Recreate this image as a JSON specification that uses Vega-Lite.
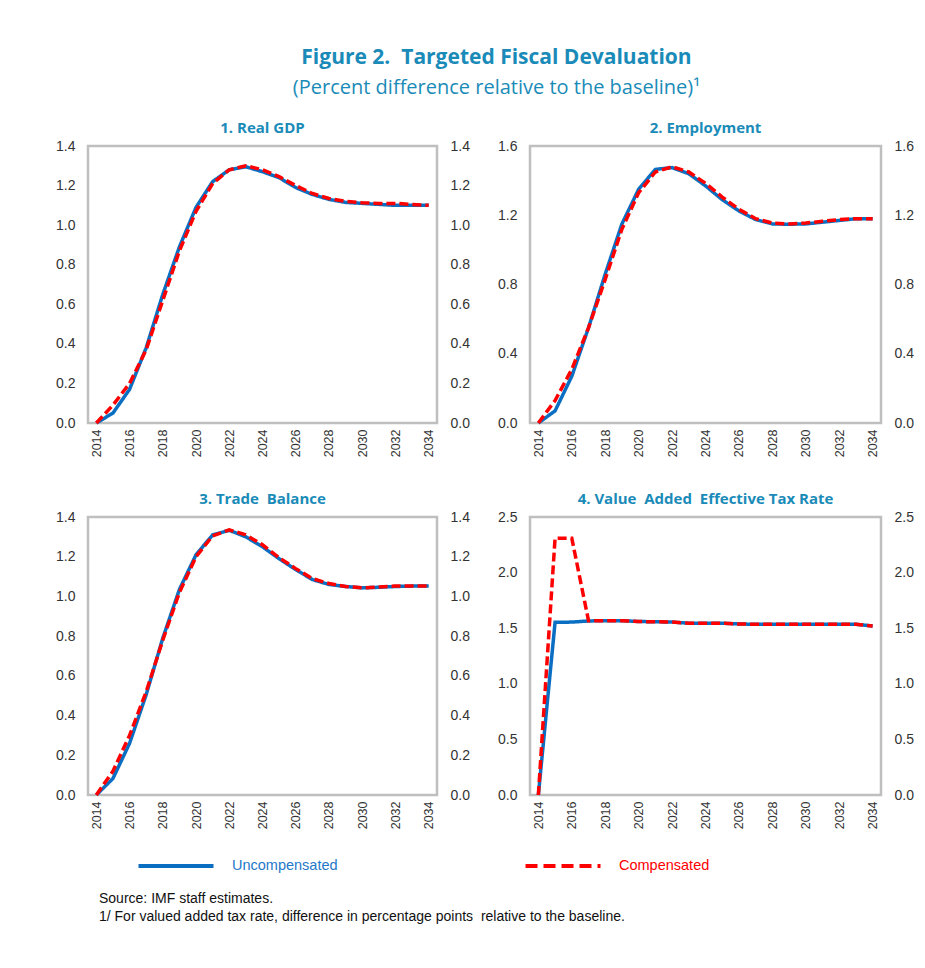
{
  "$schema": "https://vega.github.io/schema/vega-lite/v6.json",
  "padding": {"left": 54, "top": 46, "right": 5, "bottom": 5},
  "background": "white",
  "title": {
    "text": "Figure 2.\u00a0 Targeted Fiscal Devaluation",
    "subtitle": "(Percent difference relative to the baseline)¹",
    "anchor": "middle",
    "font": "Open Sans",
    "fontSize": 21,
    "fontWeight": "bold",
    "color": "#1A8BB8",
    "subtitleFont": "Open Sans",
    "subtitleFontSize": 20,
    "subtitleColor": "#1A8BB8",
    "subtitlePadding": 10,
    "offset": 22,
    "dx": 12
  },
  "datasets": {
    "d": [
      {"panel": "gdp", "year": 2014, "Uncompensated": 0, "Compensated": 0},
      {"panel": "gdp", "year": 2015, "Uncompensated": 0.05, "Compensated": 0.09},
      {"panel": "gdp", "year": 2016, "Uncompensated": 0.17, "Compensated": 0.2},
      {"panel": "gdp", "year": 2017, "Uncompensated": 0.38, "Compensated": 0.37},
      {"panel": "gdp", "year": 2018, "Uncompensated": 0.65, "Compensated": 0.62},
      {"panel": "gdp", "year": 2019, "Uncompensated": 0.89, "Compensated": 0.87},
      {"panel": "gdp", "year": 2020, "Uncompensated": 1.09, "Compensated": 1.07},
      {"panel": "gdp", "year": 2021, "Uncompensated": 1.22, "Compensated": 1.21},
      {"panel": "gdp", "year": 2022, "Uncompensated": 1.28, "Compensated": 1.28},
      {"panel": "gdp", "year": 2023, "Uncompensated": 1.295, "Compensated": 1.3},
      {"panel": "gdp", "year": 2024, "Uncompensated": 1.27, "Compensated": 1.28},
      {"panel": "gdp", "year": 2025, "Uncompensated": 1.24, "Compensated": 1.245},
      {"panel": "gdp", "year": 2026, "Uncompensated": 1.19, "Compensated": 1.2},
      {"panel": "gdp", "year": 2027, "Uncompensated": 1.155, "Compensated": 1.16},
      {"panel": "gdp", "year": 2028, "Uncompensated": 1.13, "Compensated": 1.135},
      {"panel": "gdp", "year": 2029, "Uncompensated": 1.115, "Compensated": 1.12},
      {"panel": "gdp", "year": 2030, "Uncompensated": 1.11, "Compensated": 1.113},
      {"panel": "gdp", "year": 2031, "Uncompensated": 1.105, "Compensated": 1.11},
      {"panel": "gdp", "year": 2032, "Uncompensated": 1.1, "Compensated": 1.11},
      {"panel": "gdp", "year": 2033, "Uncompensated": 1.1, "Compensated": 1.105},
      {"panel": "gdp", "year": 2034, "Uncompensated": 1.1, "Compensated": 1.1},
      {"panel": "emp", "year": 2014, "Uncompensated": 0, "Compensated": 0},
      {"panel": "emp", "year": 2015, "Uncompensated": 0.07, "Compensated": 0.13},
      {"panel": "emp", "year": 2016, "Uncompensated": 0.27, "Compensated": 0.31},
      {"panel": "emp", "year": 2017, "Uncompensated": 0.55, "Compensated": 0.55},
      {"panel": "emp", "year": 2018, "Uncompensated": 0.86, "Compensated": 0.83},
      {"panel": "emp", "year": 2019, "Uncompensated": 1.15, "Compensated": 1.12},
      {"panel": "emp", "year": 2020, "Uncompensated": 1.35, "Compensated": 1.33},
      {"panel": "emp", "year": 2021, "Uncompensated": 1.465, "Compensated": 1.45},
      {"panel": "emp", "year": 2022, "Uncompensated": 1.475, "Compensated": 1.48},
      {"panel": "emp", "year": 2023, "Uncompensated": 1.44, "Compensated": 1.45},
      {"panel": "emp", "year": 2024, "Uncompensated": 1.37, "Compensated": 1.385},
      {"panel": "emp", "year": 2025, "Uncompensated": 1.29, "Compensated": 1.305},
      {"panel": "emp", "year": 2026, "Uncompensated": 1.225, "Compensated": 1.235},
      {"panel": "emp", "year": 2027, "Uncompensated": 1.175, "Compensated": 1.18},
      {"panel": "emp", "year": 2028, "Uncompensated": 1.15, "Compensated": 1.155},
      {"panel": "emp", "year": 2029, "Uncompensated": 1.148, "Compensated": 1.15},
      {"panel": "emp", "year": 2030, "Uncompensated": 1.15, "Compensated": 1.155},
      {"panel": "emp", "year": 2031, "Uncompensated": 1.16, "Compensated": 1.165},
      {"panel": "emp", "year": 2032, "Uncompensated": 1.17, "Compensated": 1.175},
      {"panel": "emp", "year": 2033, "Uncompensated": 1.18, "Compensated": 1.18},
      {"panel": "emp", "year": 2034, "Uncompensated": 1.18, "Compensated": 1.18},
      {"panel": "tb", "year": 2014, "Uncompensated": 0, "Compensated": 0},
      {"panel": "tb", "year": 2015, "Uncompensated": 0.083, "Compensated": 0.12},
      {"panel": "tb", "year": 2016, "Uncompensated": 0.26, "Compensated": 0.3},
      {"panel": "tb", "year": 2017, "Uncompensated": 0.505, "Compensated": 0.52},
      {"panel": "tb", "year": 2018, "Uncompensated": 0.79, "Compensated": 0.78},
      {"panel": "tb", "year": 2019, "Uncompensated": 1.035, "Compensated": 1.02},
      {"panel": "tb", "year": 2020, "Uncompensated": 1.21, "Compensated": 1.2},
      {"panel": "tb", "year": 2021, "Uncompensated": 1.31, "Compensated": 1.305},
      {"panel": "tb", "year": 2022, "Uncompensated": 1.333, "Compensated": 1.335},
      {"panel": "tb", "year": 2023, "Uncompensated": 1.3, "Compensated": 1.31},
      {"panel": "tb", "year": 2024, "Uncompensated": 1.25, "Compensated": 1.26},
      {"panel": "tb", "year": 2025, "Uncompensated": 1.19, "Compensated": 1.195},
      {"panel": "tb", "year": 2026, "Uncompensated": 1.135, "Compensated": 1.14},
      {"panel": "tb", "year": 2027, "Uncompensated": 1.085, "Compensated": 1.09},
      {"panel": "tb", "year": 2028, "Uncompensated": 1.06, "Compensated": 1.065},
      {"panel": "tb", "year": 2029, "Uncompensated": 1.05, "Compensated": 1.05},
      {"panel": "tb", "year": 2030, "Uncompensated": 1.043, "Compensated": 1.043},
      {"panel": "tb", "year": 2031, "Uncompensated": 1.046, "Compensated": 1.048},
      {"panel": "tb", "year": 2032, "Uncompensated": 1.05, "Compensated": 1.052},
      {"panel": "tb", "year": 2033, "Uncompensated": 1.052, "Compensated": 1.053},
      {"panel": "tb", "year": 2034, "Uncompensated": 1.052, "Compensated": 1.053},
      {"panel": "vat", "year": 2014, "Uncompensated": 0, "Compensated": 0},
      {"panel": "vat", "year": 2015, "Uncompensated": 1.553, "Compensated": 2.31},
      {"panel": "vat", "year": 2016, "Uncompensated": 1.555, "Compensated": 2.31},
      {"panel": "vat", "year": 2017, "Uncompensated": 1.565, "Compensated": 1.568},
      {"panel": "vat", "year": 2018, "Uncompensated": 1.568, "Compensated": 1.568},
      {"panel": "vat", "year": 2019, "Uncompensated": 1.568, "Compensated": 1.568},
      {"panel": "vat", "year": 2020, "Uncompensated": 1.56, "Compensated": 1.56},
      {"panel": "vat", "year": 2021, "Uncompensated": 1.558, "Compensated": 1.558},
      {"panel": "vat", "year": 2022, "Uncompensated": 1.555, "Compensated": 1.555},
      {"panel": "vat", "year": 2023, "Uncompensated": 1.545, "Compensated": 1.545},
      {"panel": "vat", "year": 2024, "Uncompensated": 1.545, "Compensated": 1.545},
      {"panel": "vat", "year": 2025, "Uncompensated": 1.545, "Compensated": 1.545},
      {"panel": "vat", "year": 2026, "Uncompensated": 1.538, "Compensated": 1.538},
      {"panel": "vat", "year": 2027, "Uncompensated": 1.535, "Compensated": 1.535},
      {"panel": "vat", "year": 2028, "Uncompensated": 1.535, "Compensated": 1.535},
      {"panel": "vat", "year": 2029, "Uncompensated": 1.535, "Compensated": 1.535},
      {"panel": "vat", "year": 2030, "Uncompensated": 1.535, "Compensated": 1.535},
      {"panel": "vat", "year": 2031, "Uncompensated": 1.535, "Compensated": 1.535},
      {"panel": "vat", "year": 2032, "Uncompensated": 1.535, "Compensated": 1.535},
      {"panel": "vat", "year": 2033, "Uncompensated": 1.535, "Compensated": 1.535},
      {"panel": "vat", "year": 2034, "Uncompensated": 1.52, "Compensated": 1.52}
    ]
  },
  "data": {"name": "d"},
  "vconcat": [
    {
      "vconcat": [
        {
          "hconcat": [
            {
              "width": 349, "height": 277,
              "title": "1. Real GDP",
              "transform": [{"filter": "datum.panel == 'gdp'"}, {"fold": ["Uncompensated", "Compensated"], "as": ["series", "value"]}],
              "encoding": {
                "x": {"field": "year", "type": "quantitative", "scale": {"domain": [2013.5, 2034.5], "nice": false, "zero": false}, "axis": {"values": [2014, 2016, 2018, 2020, 2022, 2024, 2026, 2028, 2030, 2032, 2034], "format": "d", "labelAngle": -90, "title": null, "labelPadding": 6, "labelFontSize": 12.5}}
              },
              "layer": [
                {
                  "mark": {"type": "line", "strokeWidth": 3.5},
                  "encoding": {
                    "y": {"field": "value", "type": "quantitative", "scale": {"domain": [0, 1.4], "nice": false}, "axis": {"values": [0, 0.2, 0.4, 0.6, 0.8, 1.0, 1.2, 1.4], "format": ".1f", "title": null, "labelPadding": 13}},
                    "color": {"field": "series", "type": "nominal", "scale": {"domain": ["Uncompensated", "Compensated"], "range": ["#0A6FC2", "#FF0000"]}, "legend": null},
                    "strokeDash": {"field": "series", "type": "nominal", "scale": {"domain": ["Uncompensated", "Compensated"], "range": [[1, 0], [9, 4]]}, "legend": null}
                  }
                },
                {
                  "mark": {"type": "line", "opacity": 0},
                  "encoding": {
                    "y": {"field": "value", "type": "quantitative", "scale": {"domain": [0, 1.4], "nice": false}, "axis": {"orient": "right", "values": [0, 0.2, 0.4, 0.6, 0.8, 1.0, 1.2, 1.4], "format": ".1f", "title": null, "labelPadding": 13}},
                    "detail": {"field": "series"}
                  }
                }
              ],
              "resolve": {"scale": {"y": "independent"}}
            },
            {
              "width": 351, "height": 277,
              "title": "2. Employment",
              "transform": [{"filter": "datum.panel == 'emp'"}, {"fold": ["Uncompensated", "Compensated"], "as": ["series", "value"]}],
              "encoding": {
                "x": {"field": "year", "type": "quantitative", "scale": {"domain": [2013.5, 2034.5], "nice": false, "zero": false}, "axis": {"values": [2014, 2016, 2018, 2020, 2022, 2024, 2026, 2028, 2030, 2032, 2034], "format": "d", "labelAngle": -90, "title": null, "labelPadding": 6, "labelFontSize": 12.5}}
              },
              "layer": [
                {
                  "mark": {"type": "line", "strokeWidth": 3.5},
                  "encoding": {
                    "y": {"field": "value", "type": "quantitative", "scale": {"domain": [0, 1.6], "nice": false}, "axis": {"values": [0, 0.4, 0.8, 1.2, 1.6], "format": ".1f", "title": null, "labelPadding": 13}},
                    "color": {"field": "series", "type": "nominal", "scale": {"domain": ["Uncompensated", "Compensated"], "range": ["#0A6FC2", "#FF0000"]}, "legend": null},
                    "strokeDash": {"field": "series", "type": "nominal", "scale": {"domain": ["Uncompensated", "Compensated"], "range": [[1, 0], [9, 4]]}, "legend": null}
                  }
                },
                {
                  "mark": {"type": "line", "opacity": 0},
                  "encoding": {
                    "y": {"field": "value", "type": "quantitative", "scale": {"domain": [0, 1.6], "nice": false}, "axis": {"orient": "right", "values": [0, 0.4, 0.8, 1.2, 1.6], "format": ".1f", "title": null, "labelPadding": 13}},
                    "detail": {"field": "series"}
                  }
                }
              ],
              "resolve": {"scale": {"y": "independent"}}
            }
          ],
          "spacing": 25,
          "resolve": {"scale": {"color": "independent", "strokeDash": "independent"}}
        },
        {
          "hconcat": [
            {
              "width": 349, "height": 278,
              "title": "3. Trade\u00a0 Balance",
              "transform": [{"filter": "datum.panel == 'tb'"}, {"fold": ["Uncompensated", "Compensated"], "as": ["series", "value"]}],
              "encoding": {
                "x": {"field": "year", "type": "quantitative", "scale": {"domain": [2013.5, 2034.5], "nice": false, "zero": false}, "axis": {"values": [2014, 2016, 2018, 2020, 2022, 2024, 2026, 2028, 2030, 2032, 2034], "format": "d", "labelAngle": -90, "title": null, "labelPadding": 6, "labelFontSize": 12.5}}
              },
              "layer": [
                {
                  "mark": {"type": "line", "strokeWidth": 3.5},
                  "encoding": {
                    "y": {"field": "value", "type": "quantitative", "scale": {"domain": [0, 1.4], "nice": false}, "axis": {"values": [0, 0.2, 0.4, 0.6, 0.8, 1.0, 1.2, 1.4], "format": ".1f", "title": null, "labelPadding": 13}},
                    "color": {"field": "series", "type": "nominal", "scale": {"domain": ["Uncompensated", "Compensated"], "range": ["#0A6FC2", "#FF0000"]}, "legend": null},
                    "strokeDash": {"field": "series", "type": "nominal", "scale": {"domain": ["Uncompensated", "Compensated"], "range": [[1, 0], [9, 4]]}, "legend": null}
                  }
                },
                {
                  "mark": {"type": "line", "opacity": 0},
                  "encoding": {
                    "y": {"field": "value", "type": "quantitative", "scale": {"domain": [0, 1.4], "nice": false}, "axis": {"orient": "right", "values": [0, 0.2, 0.4, 0.6, 0.8, 1.0, 1.2, 1.4], "format": ".1f", "title": null, "labelPadding": 13}},
                    "detail": {"field": "series"}
                  }
                }
              ],
              "resolve": {"scale": {"y": "independent"}}
            },
            {
              "width": 351, "height": 278,
              "title": "4. Value\u00a0 Added\u00a0 Effective Tax Rate",
              "transform": [{"filter": "datum.panel == 'vat'"}, {"fold": ["Uncompensated", "Compensated"], "as": ["series", "value"]}],
              "encoding": {
                "x": {"field": "year", "type": "quantitative", "scale": {"domain": [2013.5, 2034.5], "nice": false, "zero": false}, "axis": {"values": [2014, 2016, 2018, 2020, 2022, 2024, 2026, 2028, 2030, 2032, 2034], "format": "d", "labelAngle": -90, "title": null, "labelPadding": 6, "labelFontSize": 12.5}}
              },
              "layer": [
                {
                  "mark": {"type": "line", "strokeWidth": 3.5},
                  "encoding": {
                    "y": {"field": "value", "type": "quantitative", "scale": {"domain": [0, 2.5], "nice": false}, "axis": {"values": [0, 0.5, 1.0, 1.5, 2.0, 2.5], "format": ".1f", "title": null, "labelPadding": 13}},
                    "color": {"field": "series", "type": "nominal", "scale": {"domain": ["Uncompensated", "Compensated"], "range": ["#0A6FC2", "#FF0000"]}, "legend": null},
                    "strokeDash": {"field": "series", "type": "nominal", "scale": {"domain": ["Uncompensated", "Compensated"], "range": [[1, 0], [9, 4]]}, "legend": null}
                  }
                },
                {
                  "mark": {"type": "line", "opacity": 0},
                  "encoding": {
                    "y": {"field": "value", "type": "quantitative", "scale": {"domain": [0, 2.5], "nice": false}, "axis": {"orient": "right", "values": [0, 0.5, 1.0, 1.5, 2.0, 2.5], "format": ".1f", "title": null, "labelPadding": 13}},
                    "detail": {"field": "series"}
                  }
                }
              ],
              "resolve": {"scale": {"y": "independent"}}
            }
          ],
          "spacing": 25,
          "resolve": {"scale": {"color": "independent", "strokeDash": "independent"}}
        }
      ],
      "spacing": 31,
      "resolve": {"scale": {"color": "independent", "strokeDash": "independent"}}
    },
    {
      "width": 760, "height": 1,
      "view": {"stroke": null},
      "title": {
        "text": ["Source: IMF staff estimates.", "1/ For valued added tax rate, difference in percentage points\u00a0 relative to the baseline."],
        "orient": "bottom",
        "anchor": "start",
        "frame": "bounds",
        "dx": 11,
        "offset": 17,
        "font": "Liberation Sans",
        "fontSize": 14,
        "fontWeight": "normal",
        "color": "#111111",
        "lineHeight": 18
      },
      "transform": [{"filter": "datum.panel == 'none'"}, {"fold": ["Uncompensated", "Compensated"], "as": ["series", "value"]}],
      "mark": {"type": "line", "strokeWidth": 4},
      "encoding": {
        "color": {"field": "series", "type": "nominal", "scale": {"domain": ["Uncompensated", "Compensated"], "range": ["#0A6FC2", "#FF0000"]},
          "legend": {
            "orient": "top", "direction": "horizontal", "title": null, "offset": 0,
            "symbolType": "M-3.75,0H3.75", "symbolSize": 400, "symbolStrokeWidth": 4, "symbolOffset": 76,
            "labelFont": "Liberation Sans", "labelFontSize": 14.5, "labelOffset": 44, "columnPadding": 137,
            "encode": {"labels": {"update": {"fill": {"signal": "datum.label == 'Compensated' ? '#FF0000' : '#1F78C8'"}}}}
          }
        },
        "strokeDash": {"field": "series", "type": "nominal", "scale": {"domain": ["Uncompensated", "Compensated"], "range": [[1, 0], [12, 6]]}, "legend": {"orient": "top", "direction": "horizontal", "title": null}}
      }
    }
  ],
  "spacing": 23,
  "resolve": {"scale": {"color": "independent", "strokeDash": "independent"}},
  "config": {
    "view": {"stroke": "#BFBFBF", "strokeWidth": 2.5},
    "axis": {"grid": false, "ticks": false, "domain": false, "labelFont": "Liberation Sans", "labelFontSize": 14, "labelColor": "#333333"},
    "title": {"font": "Open Sans", "fontSize": 15, "fontWeight": "bold", "color": "#1A8BB8", "offset": 3},
    "legend": {"symbolFillColor": "transparent"}
  }
}
